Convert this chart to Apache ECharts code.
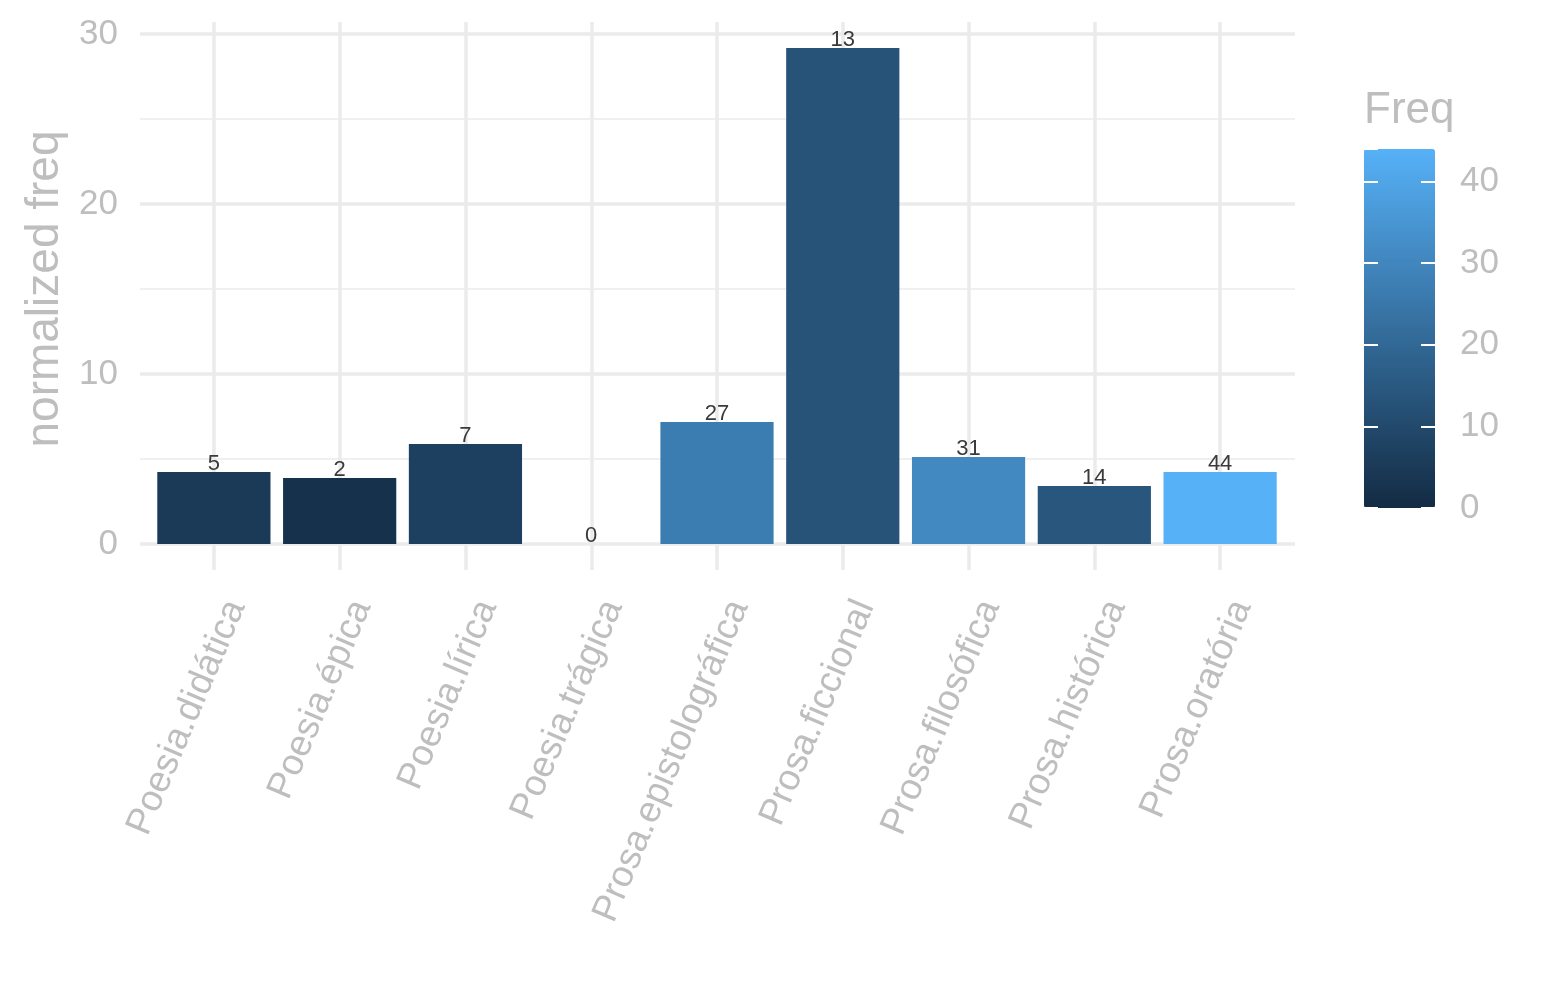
<!DOCTYPE html>
<html>
<head>
<meta charset="utf-8">
<script src="https://cdn.jsdelivr.net/npm/echarts@6/dist/echarts.min.js"></script>
<style>
  html, body { margin: 0; padding: 0; background: #fff; }
  #main { width: 1545px; height: 1000px; }
</style>
</head>
<body>
<div id="main"></div>
<script>
// 类别 / 数值
const categories = ['Poesia.didática', 'Poesia.épica', 'Poesia.lírica', 'Poesia.trágica',
    'Prosa.epistolográfica', 'Prosa.ficcional', 'Prosa.filosófica', 'Prosa.histórica', 'Prosa.oratória'];
const normFreq = [4.24, 3.88, 5.88, 0, 7.18, 29.18, 5.12, 3.41, 4.24];
const freq = [5, 2, 7, 0, 27, 13, 31, 14, 44];
const yMax = 30;
const freqMax = 44;

const gridColor = '#EBEBEB';
const textGray = '#BEBEBE';
const font = "'Liberation Sans', Arial, sans-serif";

let chart = echarts.init(document.getElementById('main'));

let barData = categories.map((c, i) => [c, normFreq[i], freq[i]]);

const hidden = { show: false };

let option = {
    animation: false,
    textStyle: { fontFamily: font },
    grid: [
        // 柱子
        { left: 151, right: 262, top: 34, bottom: 456 },
        // 竖网格线
        { left: 214, right: 325, top: 22, bottom: 430 },
        // 横网格线 + y轴
        { left: 140, right: 250, top: 34, bottom: 456 },
        // x轴标签
        { left: 236, right: 303, top: 34, bottom: 456 },
        // 色条
        { left: 1364, right: 110, top: 149, bottom: 492 }
    ],
    xAxis: [
        { gridIndex: 0, type: 'category', data: categories, axisLine: hidden, axisTick: hidden, axisLabel: hidden, splitLine: hidden },
        {
            gridIndex: 1, type: 'category', data: categories, boundaryGap: false,
            axisLine: hidden, axisTick: hidden, axisLabel: hidden,
            splitLine: { show: true, interval: 0, lineStyle: { color: gridColor, width: 3.5 } }
        },
        { gridIndex: 2, type: 'category', data: categories, show: false },
        {
            gridIndex: 3, type: 'category', data: categories, boundaryGap: false,
            axisLine: hidden, axisTick: hidden, splitLine: hidden,
            axisLabel: { rotate: 67, margin: 58, fontSize: 37, color: textGray, interval: 0 }
        },
        { gridIndex: 4, type: 'value', show: false }
    ],
    yAxis: [
        { gridIndex: 0, type: 'value', min: 0, max: yMax, show: false },
        { gridIndex: 1, type: 'value', show: false },
        {
            gridIndex: 2, type: 'value', min: 0, max: yMax, interval: 10,
            axisLine: hidden, axisTick: hidden,
            axisLabel: { margin: 22, fontSize: 35, color: textGray },
            splitLine: { show: true, lineStyle: { color: gridColor, width: 3.5 } },
            minorTick: { show: false, splitNumber: 2 },
            minorSplitLine: { show: true, lineStyle: { color: '#F0F0F0', width: 2 } },
            name: 'normalized freq', nameLocation: 'middle', nameRotate: 90, nameGap: 70,
            nameTextStyle: { fontSize: 46, color: textGray }
        },
        { gridIndex: 3, type: 'value', show: false },
        {
            gridIndex: 4, type: 'value', min: 0, max: freqMax, interval: 10, z: 10,
            axisLine: hidden, axisLabel: hidden, splitLine: hidden,
            axisTick: { show: true, inside: true, length: 14, lineStyle: { color: '#fff', width: 2 } },
            name: 'Freq', nameLocation: 'end', nameGap: 16,
            nameTextStyle: { fontSize: 44, color: textGray, align: 'left' }
        },
        {
            gridIndex: 4, type: 'value', position: 'right', min: 0, max: freqMax, interval: 10, z: 10,
            axisLine: hidden, splitLine: hidden,
            axisTick: { show: true, inside: true, length: 14, lineStyle: { color: '#fff', width: 2 } },
            axisLabel: { margin: 25, fontSize: 35, color: textGray, padding: [6, 0, 0, 0] }
        }
    ],
    visualMap: {
        type: 'continuous',
        min: 0,
        max: freqMax,
        dimension: 2,
        seriesIndex: 0,
        calculable: false,
        hoverLink: false,
        left: 1364,
        top: 149,
        padding: 0,
        itemWidth: 71,
        itemHeight: 359,
        inRange: { color: ['#132B43', '#56B1F7'] }
    },
    series: [
        {
            type: 'bar',
            xAxisIndex: 0,
            yAxisIndex: 0,
            data: barData,
            encode: { x: 0, y: 1 },
            barCategoryGap: '10%',
            z: 5,
            label: {
                show: true,
                position: 'top',
                distance: -3,
                fontSize: 22,
                color: '#3A3A3A',
                formatter: p => p.value[2]
            }
        }
    ]
};
chart.setOption(option);
</script>
</body>
</html>
